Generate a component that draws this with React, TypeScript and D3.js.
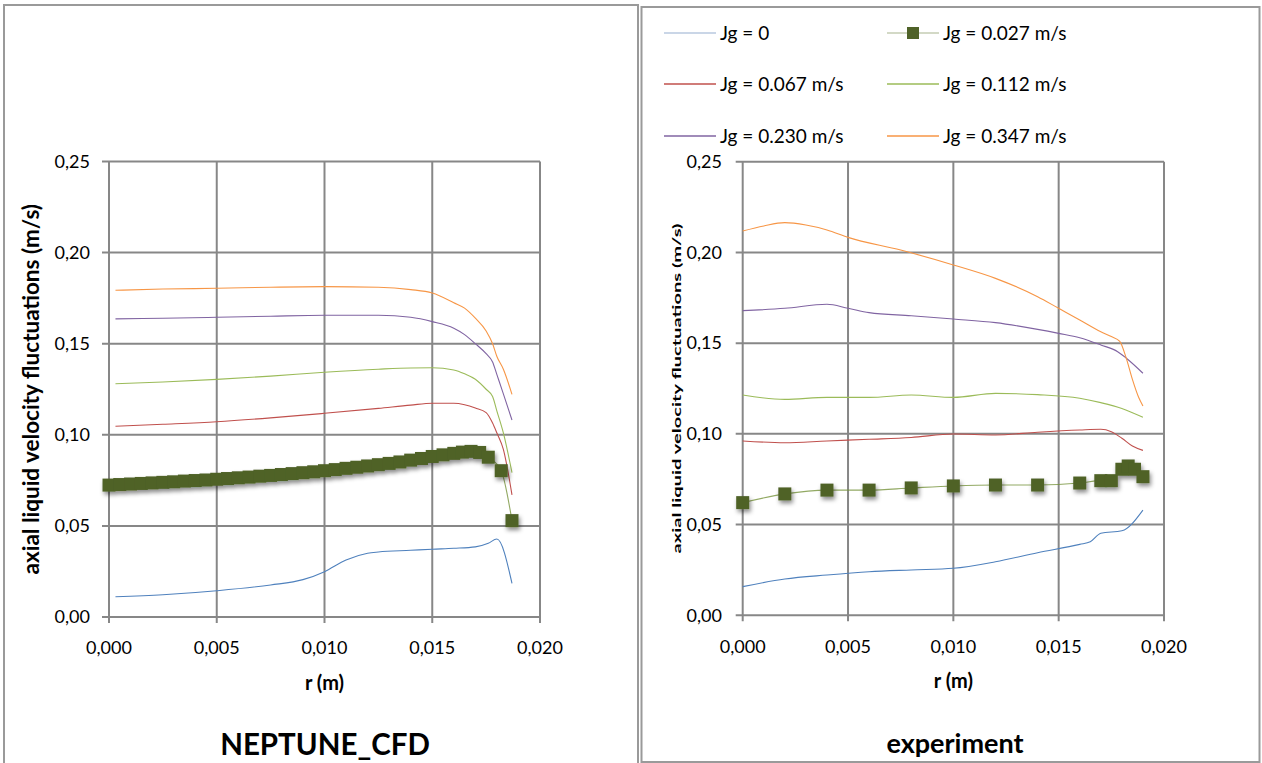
import React from "react";
import * as d3 from "d3";

// ---------- NEPTUNE_CFD profiles (r in m, fluctuations in m/s) ----------
const cfdR = [0.0003, 0.0025, 0.005, 0.0075, 0.01, 0.0125, 0.014, 0.015, 0.016, 0.0165, 0.017, 0.0175, 0.0178, 0.018, 0.0183, 0.0187];
const cfdJg067 = [0.1047, 0.1058, 0.1072, 0.1093, 0.1118, 0.1145, 0.1163, 0.1173, 0.1173, 0.1165, 0.1147, 0.1122, 0.1065, 0.101, 0.092, 0.067];
const cfdJg112 = [0.128, 0.129, 0.1304, 0.1322, 0.1343, 0.136, 0.1367, 0.1368, 0.1356, 0.1335, 0.1305, 0.125, 0.121, 0.113, 0.101, 0.0792];
const cfdJg230 = [0.1636, 0.164, 0.1645, 0.1651, 0.1656, 0.1656, 0.1645, 0.1621, 0.1585, 0.155, 0.15, 0.1445, 0.14, 0.133, 0.1225, 0.1081];
const cfdJg347 = [0.1793, 0.18, 0.1804, 0.181, 0.1813, 0.181, 0.1797, 0.1778, 0.1725, 0.1695, 0.164, 0.157, 0.15, 0.143, 0.136, 0.1222];

const cfdJg0R = [0.0003, 0.0025, 0.005, 0.0075, 0.009, 0.01, 0.011, 0.012, 0.0125, 0.014, 0.015, 0.016, 0.017, 0.0176, 0.018, 0.0187];
const cfdJg0 = [0.0111, 0.0122, 0.0144, 0.0176, 0.0205, 0.0249, 0.0313, 0.035, 0.0357, 0.0366, 0.0372, 0.0377, 0.0385, 0.0405, 0.0428, 0.0185];

const cfdJg027R = [
  0, 0.0005, 0.001, 0.0015, 0.002, 0.0025, 0.003, 0.0035, 0.004, 0.0045, 0.005, 0.0055, 0.006, 0.0065,
  0.007, 0.0075, 0.008, 0.0085, 0.009, 0.0095, 0.01, 0.0105, 0.011, 0.0115, 0.012, 0.0125, 0.013,
  0.0135, 0.014, 0.0145, 0.015, 0.0155, 0.016, 0.0164, 0.0168, 0.0172, 0.0176, 0.0182, 0.0187,
];
const cfdJg027 = [
  0.0724, 0.0727, 0.073, 0.0733, 0.0736, 0.0739, 0.0742, 0.0746, 0.0749, 0.0752, 0.0756, 0.076, 0.0764, 0.0768,
  0.0773, 0.0777, 0.0782, 0.0787, 0.0792, 0.0797, 0.0803, 0.0809, 0.0816, 0.0822, 0.0829, 0.0836, 0.0843,
  0.0851, 0.0861, 0.087, 0.0881, 0.089, 0.0898, 0.0905, 0.0909, 0.0903, 0.0877, 0.0803, 0.0529,
];

// ---------- experimental profiles ----------
const expJg0R = [0, 0.002, 0.004, 0.006, 0.008, 0.01, 0.012, 0.014, 0.016, 0.0165, 0.017, 0.018, 0.019];
const expJg0 = [0.0158, 0.02, 0.0222, 0.024, 0.025, 0.0259, 0.0295, 0.0345, 0.0391, 0.0405, 0.0452, 0.0466, 0.058];

const expJg027R = [0, 0.002, 0.004, 0.006, 0.008, 0.01, 0.012, 0.014, 0.016, 0.017, 0.0175, 0.018, 0.0183, 0.0186, 0.019];
const expJg027 = [0.0621, 0.0669, 0.069, 0.069, 0.0702, 0.0713, 0.0718, 0.0718, 0.0729, 0.0742, 0.0742, 0.0805, 0.0823, 0.0805, 0.0764];

const expJg067R = [0, 0.002, 0.004, 0.006, 0.008, 0.01, 0.012, 0.014, 0.016, 0.017, 0.0175, 0.018, 0.0185, 0.019];
const expJg067 = [0.0961, 0.0951, 0.0961, 0.097, 0.098, 0.0999, 0.0994, 0.1009, 0.1021, 0.1025, 0.1012, 0.0976, 0.0933, 0.0909];

const expJg112R = [0, 0.002, 0.004, 0.006, 0.008, 0.01, 0.012, 0.014, 0.016, 0.017, 0.018, 0.019];
const expJg112 = [0.1214, 0.119, 0.1201, 0.1201, 0.1214, 0.1201, 0.1223, 0.1216, 0.1196, 0.1172, 0.114, 0.1091];

const expJg230R = [0, 0.002, 0.004, 0.005, 0.006, 0.008, 0.01, 0.012, 0.014, 0.015, 0.016, 0.017, 0.0178, 0.0182, 0.019];
const expJg230 = [0.1679, 0.1692, 0.1714, 0.1692, 0.1668, 0.1651, 0.1633, 0.1613, 0.1576, 0.1554, 0.153, 0.149, 0.1453, 0.1418, 0.1334];

const expJg347R = [0, 0.001, 0.002, 0.003, 0.004, 0.005, 0.0075, 0.01, 0.012, 0.014, 0.015, 0.016, 0.017, 0.0175, 0.0179, 0.0182, 0.0185, 0.0188, 0.019];
const expJg347 = [0.2118, 0.2146, 0.2164, 0.2151, 0.2124, 0.2083, 0.2013, 0.1931, 0.1857, 0.1756, 0.1692, 0.1628, 0.1563, 0.1536, 0.151, 0.142, 0.13, 0.12, 0.1154];

// ---------- axes and legend ----------
const xTicks = [0, 0.005, 0.01, 0.015, 0.02];
const yTicks = [0, 0.05, 0.1, 0.15, 0.2, 0.25];
const legendLabels = ["Jg = 0", "Jg = 0.027 m/s", "Jg = 0.067 m/s", "Jg = 0.112 m/s", "Jg = 0.230 m/s", "Jg = 0.347 m/s"];
const seriesColors = ["#4F81BD", "#77933C", "#C0504D", "#9BBB59", "#8064A2", "#F79646"];
const legendLineColors = ["#B9C9DF", "#C4CDB3", "#C0504D", "#9BBB59", "#8064A2", "#F79646"];
const markerColor = "#4F6228";

const FONT = "Lato, 'Open Sans', sans-serif";
const fmt2 = (v: number) => v.toFixed(2).replace(".", ",");
const fmt3 = (v: number) => v.toFixed(3).replace(".", ",");

type Series = { r: number[]; v: number[]; color: string; markers?: boolean };

type PanelProps = {
  x0: number; x1: number; y0: number; y1: number;
  series: Series[];
  yTickEnd: number;
  yTitle: string; yTitleSize: number; yTitleX: number; yTitleLength?: number;
  title: string; titleSize: number; cx: number;
};

function Panel(p: PanelProps) {
  const x = d3.scaleLinear().domain([0, 0.02]).range([p.x0, p.x1]);
  const y = d3.scaleLinear().domain([0, 0.25]).range([p.y0, p.y1]);
  const grid = "#878787";
  const midY = (p.y0 + p.y1) / 2;
  return (
    <g fontFamily={FONT}>
      {/* gridlines */}
      {yTicks.map((t) => (
        <line key={"gy" + t} x1={p.x0 - 7} x2={p.x1} y1={y(t)} y2={y(t)} stroke={grid} strokeWidth={2} />
      ))}
      {xTicks.map((t) => (
        <line key={"gx" + t} x1={x(t)} x2={x(t)} y1={p.y1} y2={p.y0 + 6} stroke={grid} strokeWidth={2} />
      ))}
      {/* tick labels */}
      {yTicks.map((t) => (
        <text key={"ly" + t} x={p.yTickEnd} y={y(t)} dy="0.35em" textAnchor="end" fontSize={18} fill="#000">
          {fmt2(t)}
        </text>
      ))}
      {xTicks.map((t) => (
        <text key={"lx" + t} x={x(t)} y={p.y0 + 31} dy="0.35em" textAnchor="middle" fontSize={18} fill="#000">
          {fmt3(t)}
        </text>
      ))}
      {/* series */}
      {p.series.map((s, i) => {
        const pts = s.r.map((r, k) => [x(r), y(s.v[k])] as [number, number]);
        const path = d3.line().curve(d3.curveMonotoneX)(pts) || "";
        return (
          <g key={"s" + i}>
            <path d={path} fill="none" stroke={s.color} strokeWidth={1.1} strokeOpacity={s.markers ? 0.8 : 1} />
            {s.markers && (
              <g filter="url(#mshadow)">
                {pts.map(([px, py], k) => (
                  <rect key={k} x={px - 6.5} y={py - 6.5} width={13} height={13} fill={markerColor} />
                ))}
              </g>
            )}
          </g>
        );
      })}
      {/* axis titles */}
      <text x={(p.x0 + p.x1) / 2} y={p.y0 + 66} dy="0.35em" textAnchor="middle" fontSize={20} fontWeight="bold">
        r (m)
      </text>
      <text
        transform={`translate(${p.yTitleX},${midY}) rotate(-90)`}
        textAnchor="middle"
        dy="0.35em"
        fontSize={p.yTitleSize}
        fontWeight="bold"
        textLength={p.yTitleLength}
        lengthAdjust={p.yTitleLength ? "spacingAndGlyphs" : undefined}
      >
        {p.yTitle}
      </text>
      <text x={p.cx} y={p.y0 + 128} dy="0.35em" textAnchor="middle" fontSize={p.titleSize} fontWeight="bold">
        {p.title}
      </text>
    </g>
  );
}

function Legend() {
  const cols = [664, 887];
  const rows = [33, 84, 136];
  return (
    <g fontFamily={FONT}>
      {legendLabels.map((lab, i) => {
        const cx = cols[i % 2];
        const cy = rows[Math.floor(i / 2)];
        return (
          <g key={lab}>
            <line x1={cx} x2={cx + 52} y1={cy} y2={cy} stroke={legendLineColors[i]} strokeWidth={1.5} />
            {i === 1 && <rect x={cx + 20} y={cy - 6} width={12} height={12} fill={markerColor} />}
            <text x={cx + 56} y={cy} dy="0.35em" fontSize={19} fill="#000">
              {lab}
            </text>
          </g>
        );
      })}
    </g>
  );
}

export default function App() {
  const yTitle = "axial liquid velocity fluctuations (m/s)";
  const cfdSeries: Series[] = [
    { r: cfdJg0R, v: cfdJg0, color: seriesColors[0] },
    { r: cfdR, v: cfdJg067, color: seriesColors[2] },
    { r: cfdR, v: cfdJg112, color: seriesColors[3] },
    { r: cfdR, v: cfdJg230, color: seriesColors[4] },
    { r: cfdR, v: cfdJg347, color: seriesColors[5] },
    { r: cfdJg027R, v: cfdJg027, color: seriesColors[1], markers: true },
  ];
  const expSeries: Series[] = [
    { r: expJg0R, v: expJg0, color: seriesColors[0] },
    { r: expJg067R, v: expJg067, color: seriesColors[2] },
    { r: expJg112R, v: expJg112, color: seriesColors[3] },
    { r: expJg230R, v: expJg230, color: seriesColors[4] },
    { r: expJg347R, v: expJg347, color: seriesColors[5] },
    { r: expJg027R, v: expJg027, color: seriesColors[1], markers: true },
  ];
  return (
    <svg
      width={1262}
      height={763}
      style={{ position: "absolute", left: 0, top: 0, background: "#fff" }}
    >
      <defs>
        <filter id="mshadow" x="-50%" y="-50%" width="200%" height="200%">
          <feDropShadow dx={1.5} dy={3} stdDeviation={2} floodColor="#000" floodOpacity={0.45} />
        </filter>
      </defs>
      <rect width={1262} height={763} fill="#fff" />
      {/* panel frames */}
      <rect x={4} y={5} width={634} height={800} fill="none" stroke="#9a9a9a" strokeWidth={2} />
      <rect x={641.5} y={7} width={618} height={755} fill="none" stroke="#9a9a9a" strokeWidth={2} />
      <Panel
        x0={109} x1={540} y0={617} y1={161.5}
        series={cfdSeries}
        yTickEnd={90}
        yTitle={yTitle} yTitleSize={22.5} yTitleX={31}
        title="NEPTUNE_CFD" titleSize={29.5} cx={325}
      />
      <Panel
        x0={742.7} x1={1164} y0={615.3} y1={161.7}
        series={expSeries}
        yTickEnd={722}
        yTitle={yTitle} yTitleSize={12} yTitleX={677} yTitleLength={330}
        title="experiment" titleSize={27} cx={955}
      />
      <Legend />
    </svg>
  );
}
